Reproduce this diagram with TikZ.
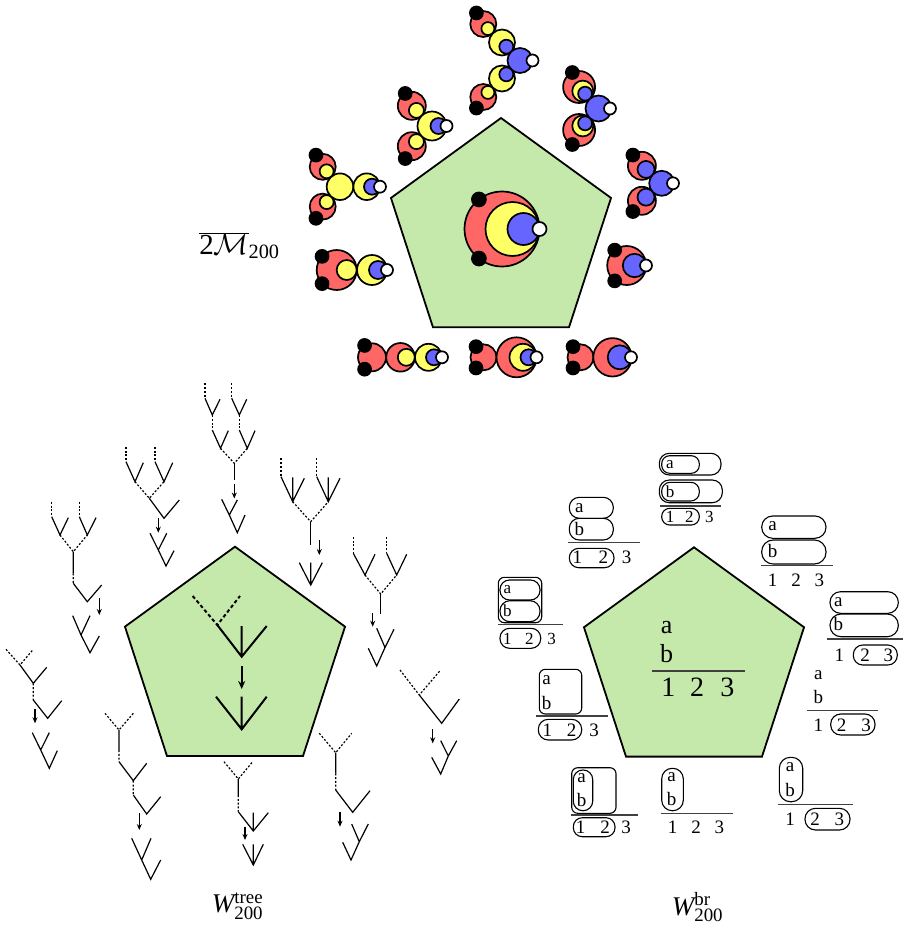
\documentclass[tikz,border=0pt]{standalone}
\usepackage{fix-cm}
\usepackage{fontspec}
\setmainfont{Liberation Serif}
\usetikzlibrary{arrows.meta}
\definecolor{pentgreen}{RGB}{197,232,171}
\definecolor{discred}{RGB}{255,102,102}
\definecolor{discyellow}{RGB}{255,255,102}
\definecolor{discblue}{RGB}{102,102,255}
\begin{document}
\begin{tikzpicture}[x=1pt,y=-1pt,
  pentshape/.style={draw=black,line width=1.8pt,fill=pentgreen},
  disc/.style={draw=black,line width=1.7pt},
  rd/.style={disc,fill=discred},
  yd/.style={disc,fill=discyellow},
  bd/.style={disc,fill=discblue},
  wd/.style={disc,fill=white},
  kd/.style={disc,fill=black},
  brbox/.style={draw=black,line width=1.1pt},
  fracbar/.style={draw=black!75,line width=1.1pt},
  treeline/.style={line width=1.2pt},
  treedash/.style={line width=1.2pt,dash pattern=on 2pt off 1.8pt},
  treearrow/.style={line width=1.2pt,-{Stealth[length=6pt,width=5pt]}},
  bigline/.style={line width=2pt},
  bigdash/.style={line width=2pt,dash pattern=on 3.5pt off 2.5pt},
  bigarrow/.style={line width=1.6pt,-{Stealth[length=8pt,width=7pt]}},
  lbo/.style={inner sep=0pt,font=\fontsize{19}{19}\selectfont},
  lbs/.style={inner sep=0pt,font=\fontsize{17}{17}\selectfont},
  lbc/.style={inner sep=0pt,font=\fontsize{26}{26}\selectfont},
  lbd/.style={inner sep=0pt,font=\fontsize{28}{28}\selectfont},
  wlabel/.style={inner sep=0pt,font=\fontsize{27}{27}\selectfont}]
\useasboundingbox (0,0) rectangle (905,927);

%Shape: Pentagons
\draw[pentshape] (501,118) -- (611.04,197.95) -- (569.01,327.3) -- (432.99,327.3) -- (390.96,197.95) -- cycle;
\draw[pentshape] (235,546.7) -- (345.04,626.65) -- (303.01,756) -- (166.99,756) -- (124.96,626.65) -- cycle;
\draw[pentshape] (694,547.3) -- (804.04,627.25) -- (762.01,756.6) -- (625.99,756.6) -- (583.96,627.25) -- cycle;

%Shape: Circles, centre
\draw[rd] (502,229) circle[radius=37.5];
\draw[yd] (512.5,229) circle[radius=27];
\draw[bd] (523.5,229) circle[radius=16];
\draw[wd] (539.5,229) circle[radius=7];
\draw[kd] ([shift={(-128:37.5)}]502,229) circle[radius=7];
\draw[kd] ([shift={(128:37.5)}]502,229) circle[radius=7];

%Shape: Circles, top
\draw[rd] (483.3,24) circle[radius=13];
\draw[yd] ([shift={(45:6.5)}]483.3,24) circle[radius=6.5];
\draw[yd] (502,42.5) circle[radius=13];
\draw[bd] ([shift={(44:6)}]502,42.5) circle[radius=7];
\draw[bd] (520,60.5) circle[radius=12.5];
\draw[yd] (502,78.5) circle[radius=13];
\draw[bd] ([shift={(-44:6)}]502,78.5) circle[radius=7];
\draw[rd] (483.3,97) circle[radius=13];
\draw[yd] ([shift={(-45:6.5)}]483.3,97) circle[radius=6.5];
\draw[wd] (532.5,60.5) circle[radius=6];
\draw[kd] ([shift={(-122:13)}]483.3,24) circle[radius=6.5];
\draw[kd] ([shift={(122:13)}]483.3,97) circle[radius=6.5];

%Shape: Circles, upper left
\draw[rd] (411.8,105.8) circle[radius=14];
\draw[yd] ([shift={(45:6.5)}]411.8,105.8) circle[radius=7.5];
\draw[rd] (411.8,146.2) circle[radius=14];
\draw[yd] ([shift={(-45:6.5)}]411.8,146.2) circle[radius=7.5];
\draw[yd] (432,126) circle[radius=14.5];
\draw[bd] ([shift={(0:6.5)}]432,126) circle[radius=8];
\draw[wd] (446.5,126) circle[radius=6];
\draw[kd] ([shift={(-118:14)}]411.8,105.8) circle[radius=6.5];
\draw[kd] ([shift={(118:14)}]411.8,146.2) circle[radius=6.5];

%Shape: Circles, left
\draw[rd] (322.7,166.8) circle[radius=13];
\draw[yd] ([shift={(49:6)}]322.7,166.8) circle[radius=7];
\draw[rd] (322.7,206.6) circle[radius=13];
\draw[yd] ([shift={(-49:6)}]322.7,206.6) circle[radius=7];
\draw[yd] (340,186.7) circle[radius=13.3];
\draw[yd] (366.7,186.7) circle[radius=13.3];
\draw[bd] ([shift={(0:5.3)}]366.7,186.7) circle[radius=8];
\draw[wd] (380,186.7) circle[radius=6];
\draw[kd] ([shift={(-120:13.5)}]322.7,166.8) circle[radius=6.5];
\draw[kd] ([shift={(120:13.5)}]322.7,206.6) circle[radius=6.5];

%Shape: Circles, lower left
\draw[rd] (336.7,270) circle[radius=20];
\draw[yd] ([shift={(0:10)}]336.7,270) circle[radius=10];
\draw[yd] (372,270) circle[radius=15];
\draw[bd] ([shift={(0:6)}]372,270) circle[radius=9];
\draw[wd] (387,270) circle[radius=6];
\draw[kd] ([shift={(-137:20)}]336.7,270) circle[radius=6.5];
\draw[kd] ([shift={(137:20)}]336.7,270) circle[radius=6.5];

%Shape: Circles, bottom row
\draw[rd] (372,357.3) circle[radius=14];
\draw[rd] (400.5,357.3) circle[radius=14.3];
\draw[yd] ([shift={(0:5.8)}]400.5,357.3) circle[radius=8.5];
\draw[yd] (428.5,357.3) circle[radius=13.5];
\draw[bd] ([shift={(0:5.5)}]428.5,357.3) circle[radius=8];
\draw[wd] (442,357.3) circle[radius=6];
\draw[kd] ([shift={(-122:14)}]372,357.3) circle[radius=6.5];
\draw[kd] ([shift={(122:14)}]372,357.3) circle[radius=6.5];

\draw[rd] (483.5,357.3) circle[radius=13];
\draw[rd] (516.5,357.3) circle[radius=20];
\draw[yd] ([shift={(0:6.5)}]516.5,357.3) circle[radius=13.5];
\draw[bd] ([shift={(0:12)}]516.5,357.3) circle[radius=8];
\draw[wd] (536.5,357.3) circle[radius=6];
\draw[kd] ([shift={(-125:13)}]483.5,357.3) circle[radius=6.5];
\draw[kd] ([shift={(125:13)}]483.5,357.3) circle[radius=6.5];

\draw[rd] (580.5,357.3) circle[radius=13];
\draw[rd] (612.5,357.3) circle[radius=19.2];
\draw[bd] ([shift={(0:7.2)}]612.5,357.3) circle[radius=12];
\draw[wd] (631,357.3) circle[radius=6];
\draw[kd] ([shift={(-125:13)}]580.5,357.3) circle[radius=6.5];
\draw[kd] ([shift={(125:13)}]580.5,357.3) circle[radius=6.5];

%Shape: Circles, lower right
\draw[rd] (626.7,265.5) circle[radius=19.5];
\draw[bd] ([shift={(0:7.8)}]626.7,265.5) circle[radius=11.7];
\draw[wd] (646,265.5) circle[radius=6];
\draw[kd] ([shift={(-128:19.5)}]626.7,265.5) circle[radius=6.5];
\draw[kd] ([shift={(128:19.5)}]626.7,265.5) circle[radius=6.5];

%Shape: Circles, right
\draw[rd] (641.9,165.8) circle[radius=14];
\draw[bd] ([shift={(41.5:5.5)}]641.9,165.8) circle[radius=8.5];
\draw[rd] (641.9,200.8) circle[radius=14];
\draw[bd] ([shift={(-41.5:5.5)}]641.9,200.8) circle[radius=8.5];
\draw[bd] (661.7,183.3) circle[radius=12.5];
\draw[wd] (673,183.3) circle[radius=6];
\draw[kd] ([shift={(-130:14)}]641.9,165.8) circle[radius=6.5];
\draw[kd] ([shift={(130:14)}]641.9,200.8) circle[radius=6.5];

%Shape: Circles, upper right
\draw[rd] (579.1,87) circle[radius=16];
\draw[yd] ([shift={(48:5.5)}]579.1,87) circle[radius=10.5];
\draw[bd] ([shift={(48:9)}]579.1,87) circle[radius=7];
\draw[rd] (579.1,130) circle[radius=16];
\draw[yd] ([shift={(-48:5.5)}]579.1,130) circle[radius=10.5];
\draw[bd] ([shift={(-48:9)}]579.1,130) circle[radius=7];
\draw[bd] (598.5,108.5) circle[radius=13];
\draw[wd] (610,108.5) circle[radius=6];
\draw[kd] ([shift={(-115:16)}]579.1,87) circle[radius=6.5];
\draw[kd] ([shift={(115:16)}]579.1,130) circle[radius=6.5];

\node[inner sep=0pt,font=\fontsize{29}{29}\selectfont] (mlabel) at (239.5,246) {$\overline{\mathrm{2}\mathcal{M}}_{\mathrm{200}}$};

%Straight Lines, centre tree
\draw[bigdash] (192.7,596) -- (217.3,625) -- (240,596);
\draw[bigline] (217.3,625) -- (241.7,656.7) -- (266.7,626) (241.7,626) -- (241.7,656.7);
\draw[bigarrow] (241.7,666) -- (241.7,689);
\draw[bigline] (216,696.7) -- (241.7,729.3) -- (266.7,696.7) (241.7,696.7) -- (241.7,729.3);

%Straight Lines, top tree
\draw[treedash] (205,383.3) -- (205,398.3) (212.3,415) -- (212.3,430);
\draw[treeline] (205,398.3) -- (212.3,415) -- (220,399.3) (212.3,430) -- (220.5,448.3) -- (228.3,430.7);
\draw[treedash] (231.7,383.3) -- (231.7,398.3) (239.3,415) -- (239.3,430);
\draw[treeline] (231.7,398.3) -- (239.3,415) -- (246.7,399.3) (239.3,430) -- (247.3,448.3) -- (255,430.7);
\draw[treedash] (220.5,448.3) -- (234.3,463.3) -- (247.3,448.3);
\draw[treeline] (234.3,463.3) -- (234.3,480);
\draw[treearrow] (234.3,484) -- (234.3,498.5);
\draw[treeline] (221.7,499.3) -- (229.3,515) -- (237.3,500) (229.3,515) -- (237.3,532.7) -- (245,515);

%Straight Lines, upper right tree
\draw[treedash] (281,458.3) -- (281,476.7) (316.7,458.3) -- (316.7,476.7);
\draw[treeline] (281,476.7) -- (292.7,501.7) -- (304.3,478.3) (292.7,477.3) -- (292.7,501.7);
\draw[treeline] (316.7,476.7) -- (328.3,501.7) -- (340,478.3) (328.3,477.3) -- (328.3,501.7);
\draw[treedash] (292.7,501.7) -- (310.7,521.7) -- (328.3,501.7);
\draw[treeline] (310.7,521.7) -- (310.7,545);
\draw[treearrow] (319.3,540) -- (319.3,555);
\draw[treeline] (299.3,562.7) -- (310.7,585) -- (322.3,562.7) (310.7,562.7) -- (310.7,585);

%Straight Lines, right tree
\draw[treedash] (353.3,536.7) -- (353.3,553.3) (386.7,536.7) -- (386.7,553.3);
\draw[treeline] (353.3,553.3) -- (365,575) -- (375,554.3) (386.7,553.3) -- (396.7,575) -- (406.7,554.3);
\draw[treedash] (365,575) -- (380.7,594) -- (396.7,575);
\draw[treeline] (380.7,594) -- (380.7,614);
\draw[treearrow] (372.7,613.3) -- (372.7,626.7);
\draw[treeline] (376.7,628.3) -- (385,647.5) -- (394,629.3) (368.3,648.3) -- (376.7,666) -- (385,647.5);

%Straight Lines, lower right tree
\draw[treedash] (400,670) -- (419.3,695) -- (440,670.7);
\draw[treeline] (419.3,695) -- (441.7,723.3) -- (459.3,699);
\draw[treearrow] (432.7,729.3) -- (432.7,743.3);
\draw[treeline] (440.7,740.7) -- (448.3,756) -- (456.7,740.7) (431.7,757.3) -- (440.7,774) -- (448.3,756);

%Straight Lines, bottom right tree
\draw[treedash] (319.3,733.3) -- (335.7,752.7) -- (351.7,733.3) (335.7,773.3) -- (335.7,790);
\draw[treeline] (335.7,752.7) -- (335.7,773.3) (335.7,790) -- (352.7,812.3) -- (370,790.7);
\draw[treearrow] (340,811.7) -- (340,826.7);
\draw[treeline] (351.7,824) -- (359.3,841.7) -- (368.3,824) (342.7,842.3) -- (351,860) -- (359.3,841.7);

%Straight Lines, bottom tree
\draw[treedash] (224,761.7) -- (238.3,779) -- (252.7,761.7) (238.3,795) -- (238.3,811.7);
\draw[treeline] (238.3,779) -- (238.3,795) (238.3,811.7) -- (253.3,831) -- (268.3,812.7) (253.3,812.7) -- (253.3,831);
\draw[treearrow] (245,826.7) -- (245,840);
\draw[treeline] (242.7,844.3) -- (253.3,865) -- (263.3,844.3) (253.3,844.3) -- (253.3,865);

%Straight Lines, bottom left tree
\draw[treedash] (105,713.3) -- (119,730) -- (133.3,713.3) (119,750) -- (119,761.7) (133.3,780.7) -- (133.3,795);
\draw[treeline] (119,730) -- (119,750) (119,761.7) -- (133.3,780.7) -- (146.7,763.3) (133.3,795) -- (146.7,814) -- (160.7,796.7);
\draw[treearrow] (139.3,813.3) -- (139.3,830);
\draw[treeline] (131.7,838.3) -- (141.7,860) -- (151,838.3) (141.7,860) -- (150.7,879.3) -- (160.7,860);

%Straight Lines, lower left tree
\draw[treedash] (6,649.3) -- (20,665) -- (33.3,649.3) (33.3,683.3) -- (33.3,700);
\draw[treeline] (20,665) -- (33.3,683.3) -- (46.7,667.3) (33.3,700) -- (47.7,718.3) -- (61.7,700.7);
\draw[treearrow] (35,709.3) -- (35,723.3);
\draw[treeline] (32.3,732.7) -- (40.7,750) -- (49.3,732.7) (40.7,750) -- (49.3,768.3) -- (57.3,750.7);

%Straight Lines, left tree
\draw[treedash] (51.7,501.7) -- (51.7,516.7) (79.3,501.7) -- (79.3,516.7);
\draw[treeline] (51.7,516.7) -- (60,535) -- (68.3,517.7) (79.3,516.7) -- (87.3,535) -- (96,517.7);
\draw[treedash] (60,535) -- (73.3,551.7) -- (87.3,535) (73.3,573.3) -- (73.3,583.3);
\draw[treeline] (73.3,551.7) -- (73.3,573.3) (73.3,583.3) -- (87.3,601.7) -- (101.7,585);
\draw[treearrow] (99.3,598.3) -- (99.3,615);
\draw[treeline] (72.7,615.7) -- (81,635) -- (90,615.7) (81,635) -- (90,652.7) -- (99.3,636);

%Straight Lines, upper left tree
\draw[treedash] (126,446.7) -- (126,461.7) (155,446.7) -- (155,461.7);
\draw[treeline] (126,461.7) -- (135,481.7) -- (143.3,462.7) (155,461.7) -- (164,481.7) -- (172.7,462.7);
\draw[treedash] (135,481.7) -- (149.3,498.3) -- (164,481.7);
\draw[treeline] (149.3,498.3) -- (164,518.3) -- (179.3,500);
\draw[treearrow] (158.3,518.3) -- (158.3,532.7);
\draw[treeline] (150,533.3) -- (158.3,550) -- (166.7,533.3) (158.3,550) -- (166,566) -- (174,550.7);

\node[wlabel] (wtree) at (237.5,906) {$\mathit{W}^{\mathrm{tree}}_{\mathrm{200}}$};

%Brackets, centre
\node[lbc] (c0a) at (666.7,627.5) {a};
\node[lbc] (c0b) at (666.7,654) {b};
\draw[fracbar] (652.3,671) -- (745,671);
\node[lbd] (c0n1) at (668.3,687) {1};
\node[lbd] (c0n2) at (697,687) {2};
\node[lbd] (c0n3) at (727.3,687) {3};

%Brackets, top
\draw[brbox,rounded corners=10pt] (659.3,453.3) rectangle (721,475);
\draw[brbox,rounded corners=8pt] (661.7,455.7) rectangle (699.3,473.3);
\draw[brbox,rounded corners=10pt] (659.3,480) rectangle (722.3,502.7);
\draw[brbox,rounded corners=8.5pt] (661.7,482.3) rectangle (699.3,501);
\draw[fracbar] (660,506) -- (721,506);
\draw[brbox,rounded corners=8pt] (661.7,508.3) rectangle (699.3,525);
\node[lbs] (c1a) at (670,465) {a};
\node[lbs] (c1b) at (670,492) {b};
\node[lbs] (c1n1) at (670,517) {1};
\node[lbs] (c1n2) at (689.3,517) {2};
\node[lbs] (c1n3) at (709.3,517) {3};

%Brackets, upper right
\draw[brbox,rounded corners=11pt] (761.7,516) rectangle (826,538.3);
\draw[brbox,rounded corners=11.5pt] (761.7,540) rectangle (826,564);
\draw[fracbar] (760.7,565.7) -- (832.7,565.7);
\node[lbo] (c2a) at (772.7,526.5) {a};
\node[lbo] (c2b) at (772.7,551) {b};
\node[lbo] (c2n1) at (772.7,580) {1};
\node[lbo] (c2n2) at (796,580) {2};
\node[lbo] (c2n3) at (819.3,580) {3};

%Brackets, right
\draw[brbox,rounded corners=10.5pt] (830,591.7) rectangle (898.3,613.3);
\draw[brbox,rounded corners=11pt] (830,614) rectangle (898.3,636.7);
\draw[fracbar] (827.3,639) -- (902.7,639);
\draw[brbox,rounded corners=9.5pt] (853.3,645) rectangle (897.3,665);
\node[lbo] (c3a) at (838.3,602.3) {a};
\node[lbo] (c3b) at (838.3,624.3) {b};
\node[lbo] (c3n1) at (839.3,655) {1};
\node[lbo] (c3n2) at (865,655) {2};
\node[lbo] (c3n3) at (888.3,655) {3};

%Brackets, lower right
\node[lbo] (c4a) at (818.3,675) {a};
\node[lbo] (c4b) at (818.3,697) {b};
\draw[fracbar] (806.7,710.7) -- (878.3,710.7);
\draw[brbox,rounded corners=10pt] (830.7,714) rectangle (875,735);
\node[lbo] (c4n1) at (818.3,725) {1};
\node[lbo] (c4n2) at (841.7,725) {2};
\node[lbo] (c4n3) at (866,725) {3};

%Brackets, bottom right
\draw[brbox,rounded corners=11pt] (779.3,757.3) rectangle (802.7,801.7);
\node[lbo] (c5a) at (790,767.5) {a};
\node[lbo] (c5b) at (790,790) {b};
\draw[fracbar] (778.3,804.3) -- (853.3,804.3);
\draw[brbox,rounded corners=10.5pt] (805,808.3) rectangle (850,830);
\node[lbo] (c5n1) at (790,819) {1};
\node[lbo] (c5n2) at (815,819) {2};
\node[lbo] (c5n3) at (839.3,819) {3};

%Brackets, bottom
\draw[brbox,rounded corners=10.5pt] (661.7,768.3) rectangle (683.3,810.7);
\node[lbo] (c6a) at (671.7,777.5) {a};
\node[lbo] (c6b) at (671.7,799) {b};
\draw[fracbar] (660.7,813.3) -- (732.7,813.3);
\node[lbo] (c6n1) at (672.7,827) {1};
\node[lbo] (c6n2) at (696,827) {2};
\node[lbo] (c6n3) at (719.3,827) {3};

%Brackets, bottom left
\draw[brbox,rounded corners=6pt] (571.7,767.7) rectangle (616,813.3);
\draw[brbox,rounded corners=9.5pt] (573.3,770) rectangle (592.7,810.7);
\node[lbo] (c7a) at (581.7,778.5) {a};
\node[lbo] (c7b) at (581.7,800) {b};
\draw[fracbar] (570.7,815) -- (638.3,815);
\draw[brbox,rounded corners=9pt] (573.3,817.7) rectangle (615,836.7);
\node[lbo] (c7n1) at (580.7,827.5) {1};
\node[lbo] (c7n2) at (605,827.5) {2};
\node[lbo] (c7n3) at (626,827.5) {3};

%Brackets, lower left
\draw[brbox,rounded corners=6pt] (539.3,669.3) rectangle (581.7,714);
\node[lbo] (c8a) at (546.7,680) {a};
\node[lbo] (c8b) at (546.7,702.5) {b};
\draw[fracbar] (536,716) -- (608.3,716);
\draw[brbox,rounded corners=10pt] (538.3,719.3) rectangle (581.7,740);
\node[lbo] (c8n1) at (547.3,730) {1};
\node[lbo] (c8n2) at (571.7,730) {2};
\node[lbo] (c8n3) at (594,730) {3};

%Brackets, left
\draw[brbox,rounded corners=6pt] (498.3,577.3) rectangle (541.7,622.7);
\draw[brbox,rounded corners=9.5pt] (500,580) rectangle (540,600);
\draw[brbox,rounded corners=10pt] (500,600.7) rectangle (540,621.7);
\node[lbs] (c9a) at (507.3,590) {a};
\node[lbs] (c9b) at (507.3,610.5) {b};
\draw[fracbar] (498.3,624.3) -- (563.3,624.3);
\draw[brbox,rounded corners=9.5pt] (500,628.3) rectangle (540.7,648.3);
\node[lbs] (c9n1) at (507.3,638.5) {1};
\node[lbs] (c9n2) at (529.3,638.5) {2};
\node[lbs] (c9n3) at (551.7,638.5) {3};

%Brackets, upper left
\draw[brbox,rounded corners=10pt] (569.3,497.3) rectangle (613.3,518.3);
\draw[brbox,rounded corners=10pt] (569.3,518.3) rectangle (613.3,540);
\draw[fracbar] (568.3,542.7) -- (640,542.7);
\draw[brbox,rounded corners=9.5pt] (569.3,548.3) rectangle (614,567.7);
\node[lbo] (c10a) at (579.3,508) {a};
\node[lbo] (c10b) at (579.3,528.5) {b};
\node[lbo] (c10n1) at (577.3,557.5) {1};
\node[lbo] (c10n2) at (603.3,557.5) {2};
\node[lbo] (c10n3) at (626.7,557.5) {3};

\node[wlabel] (wbr) at (697.5,907) {$\mathit{W}^{\mathrm{br}}_{\mathrm{200}}$};

\end{tikzpicture}
\end{document}
